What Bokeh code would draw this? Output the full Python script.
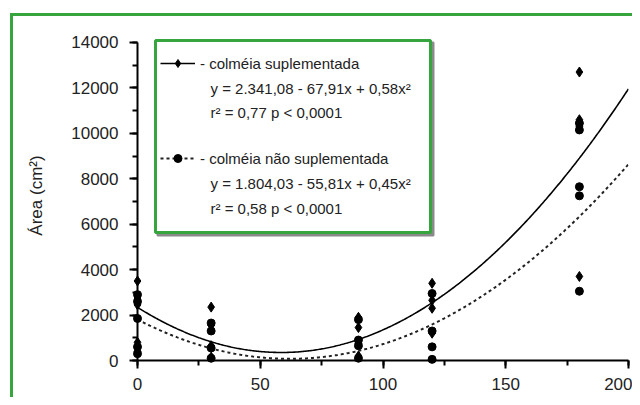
import numpy as np
from bokeh.plotting import figure
from bokeh.models import (Range1d, SingleIntervalTicker, BoxAnnotation, Label,
                          Legend, LegendItem)
from bokeh.embed import file_html
from bokeh.resources import INLINE

# ---- data ----
sup_x = [0, 0, 0, 0, 0, 30, 30, 30, 30, 90, 90, 90, 90, 120, 120, 120, 120, 180, 180, 180, 180]
sup_y = [3500, 2750, 2450, 800, 400, 2350, 1550, 650, 150, 1900, 1450, 750, 200,
         3400, 2650, 2300, 1200, 12700, 10600, 10300, 3700]
nsup_x = [0, 0, 0, 0, 0, 30, 30, 30, 30, 90, 90, 90, 90, 120, 120, 120, 120, 180, 180, 180, 180, 180]
nsup_y = [2900, 2600, 1850, 600, 300, 1650, 1300, 550, 100, 1800, 900, 650, 100,
          2950, 1300, 600, 50, 10450, 10150, 7650, 7250, 3050]
coef_sup = [2341.08, -67.91, 0.58]
coef_nsup = [1804.03, -55.81, 0.45]
x_ticks = [0, 50, 100, 150, 200]
y_ticks = [0, 2000, 4000, 6000, 8000, 10000, 12000, 14000]
label_sup = "- colméia suplementada"
label_nsup = "- colméia não suplementada"
eq_sup = ["y = 2.341,08 - 67,91x + 0,58x²", "r² = 0,77  p < 0,0001"]
eq_nsup = ["y = 1.804,03 - 55,81x + 0,45x²", "r² = 0,58  p < 0,0001"]
y_label = "Área (cm²)"

FONT = "Liberation Sans"
GREEN = "#36a53e"

W, H = 632, 397
X0, X1 = 0, 200
Y0, Y1 = 0, 14528
ML, MR, MT, MB = 137, 4, 30, 37

frame_css = {
    "background-color": "white",
    "background-image": f"linear-gradient({GREEN}, {GREEN}), linear-gradient({GREEN}, {GREEN})",
    "background-size": "3px 100%, 100% 3px",
    "background-position": "10px 13px, 10px 13px",
    "background-repeat": "no-repeat",
}

p = figure(width=W, height=H, output_backend="svg", toolbar_location=None,
           x_range=Range1d(X0, X1), y_range=Range1d(Y0, Y1),
           min_border_left=ML, min_border_right=MR, min_border_top=MT, min_border_bottom=MB,
           styles=frame_css)
p.background_fill_color = "white"
p.border_fill_alpha = 0
p.outline_line_color = None
p.grid.visible = False

# image-pixel -> data helpers (layout only)
fw = W - ML - MR
fh = H - MT - MB
def ix(px):
    return X0 + (px - ML) * (X1 - X0) / fw
def iy(py):
    return Y1 - (py - MT) * (Y1 - Y0) / fh

# fitted curves
xf = np.linspace(0, 200, 401)
ys = coef_sup[0] + coef_sup[1] * xf + coef_sup[2] * xf ** 2
yn = coef_nsup[0] + coef_nsup[1] * xf + coef_nsup[2] * xf ** 2
l1 = p.line(xf, ys, line_color="black", line_width=1.6)
l2 = p.line(xf, yn, line_color="#222222", line_width=2, line_dash="3 3")
s1 = p.scatter(sup_x, sup_y, marker="diamond", size=10, color="black", level="overlay")
s2 = p.scatter(nsup_x, nsup_y, marker="circle", size=8, color="black", level="overlay")
# smaller markers used only for the legend samples (no visible data)
k1 = p.scatter(x=[np.nan], y=[np.nan], marker="diamond", size=8, color="black")
k2 = p.scatter(x=[np.nan], y=[np.nan], marker="circle", size=6, color="black")

# axes
for ax in (p.xaxis[0], p.yaxis[0]):
    ax.axis_line_color = "black"
    ax.axis_line_width = 2
    ax.major_tick_line_color = "black"
    ax.major_tick_line_width = 2
    ax.minor_tick_line_color = "black"
    ax.minor_tick_line_width = 2
    ax.major_tick_out = 8
    ax.major_tick_in = 0
    ax.minor_tick_out = 5
    ax.minor_tick_in = 0
    ax.major_label_text_font = FONT
    ax.major_label_text_font_size = "17px"
    ax.major_label_text_color = "#222222"
    ax.axis_label_text_font = FONT
    ax.axis_label_text_font_size = "17px"
    ax.axis_label_text_font_style = "normal"
    ax.axis_label_text_color = "#222222"

p.xaxis.ticker = SingleIntervalTicker(interval=50, num_minor_ticks=2)
p.yaxis.ticker = SingleIntervalTicker(interval=2000, num_minor_ticks=2)
p.xaxis.bounds = (x_ticks[0], x_ticks[-1])
p.yaxis.bounds = (y_ticks[0], y_ticks[-1])
p.xaxis.major_label_standoff = 9
p.yaxis.major_label_standoff = 11
p.yaxis.axis_label = y_label
p.yaxis.axis_label_standoff = 22

# legend box with shadow
p.add_layout(BoxAnnotation(left=ix(157), right=ix(433), top=iy(42), bottom=iy(235),
                           fill_color="#8a8a8a", fill_alpha=1, line_color="#8a8a8a",
                           line_alpha=1, line_width=2))
p.add_layout(BoxAnnotation(left=ix(155), right=ix(430), top=iy(40), bottom=iy(232),
                           fill_color="white", fill_alpha=1, line_color=GREEN,
                           line_alpha=1, line_width=3))

legend = Legend(items=[LegendItem(label=label_sup, renderers=[l1, k1]),
                       LegendItem(label=label_nsup, renderers=[l2, k2])],
                location="top_left", margin=23, padding=0, spacing=75,
                glyph_width=35, glyph_height=20, label_height=20, label_standoff=5,
                label_text_font=FONT, label_text_font_size="15px", label_text_color="#222222",
                background_fill_alpha=0, border_line_alpha=0)
p.add_layout(legend, "center")

for txt, py in zip(eq_sup + eq_nsup, [88, 112, 183, 208]):
    p.add_layout(Label(x=ix(210), y=iy(py), text=txt, text_font=FONT, text_font_size="15px",
                       text_color="#222222", text_baseline="middle", text_align="left"))

open("out.html", "w").write(file_html(p, INLINE))
